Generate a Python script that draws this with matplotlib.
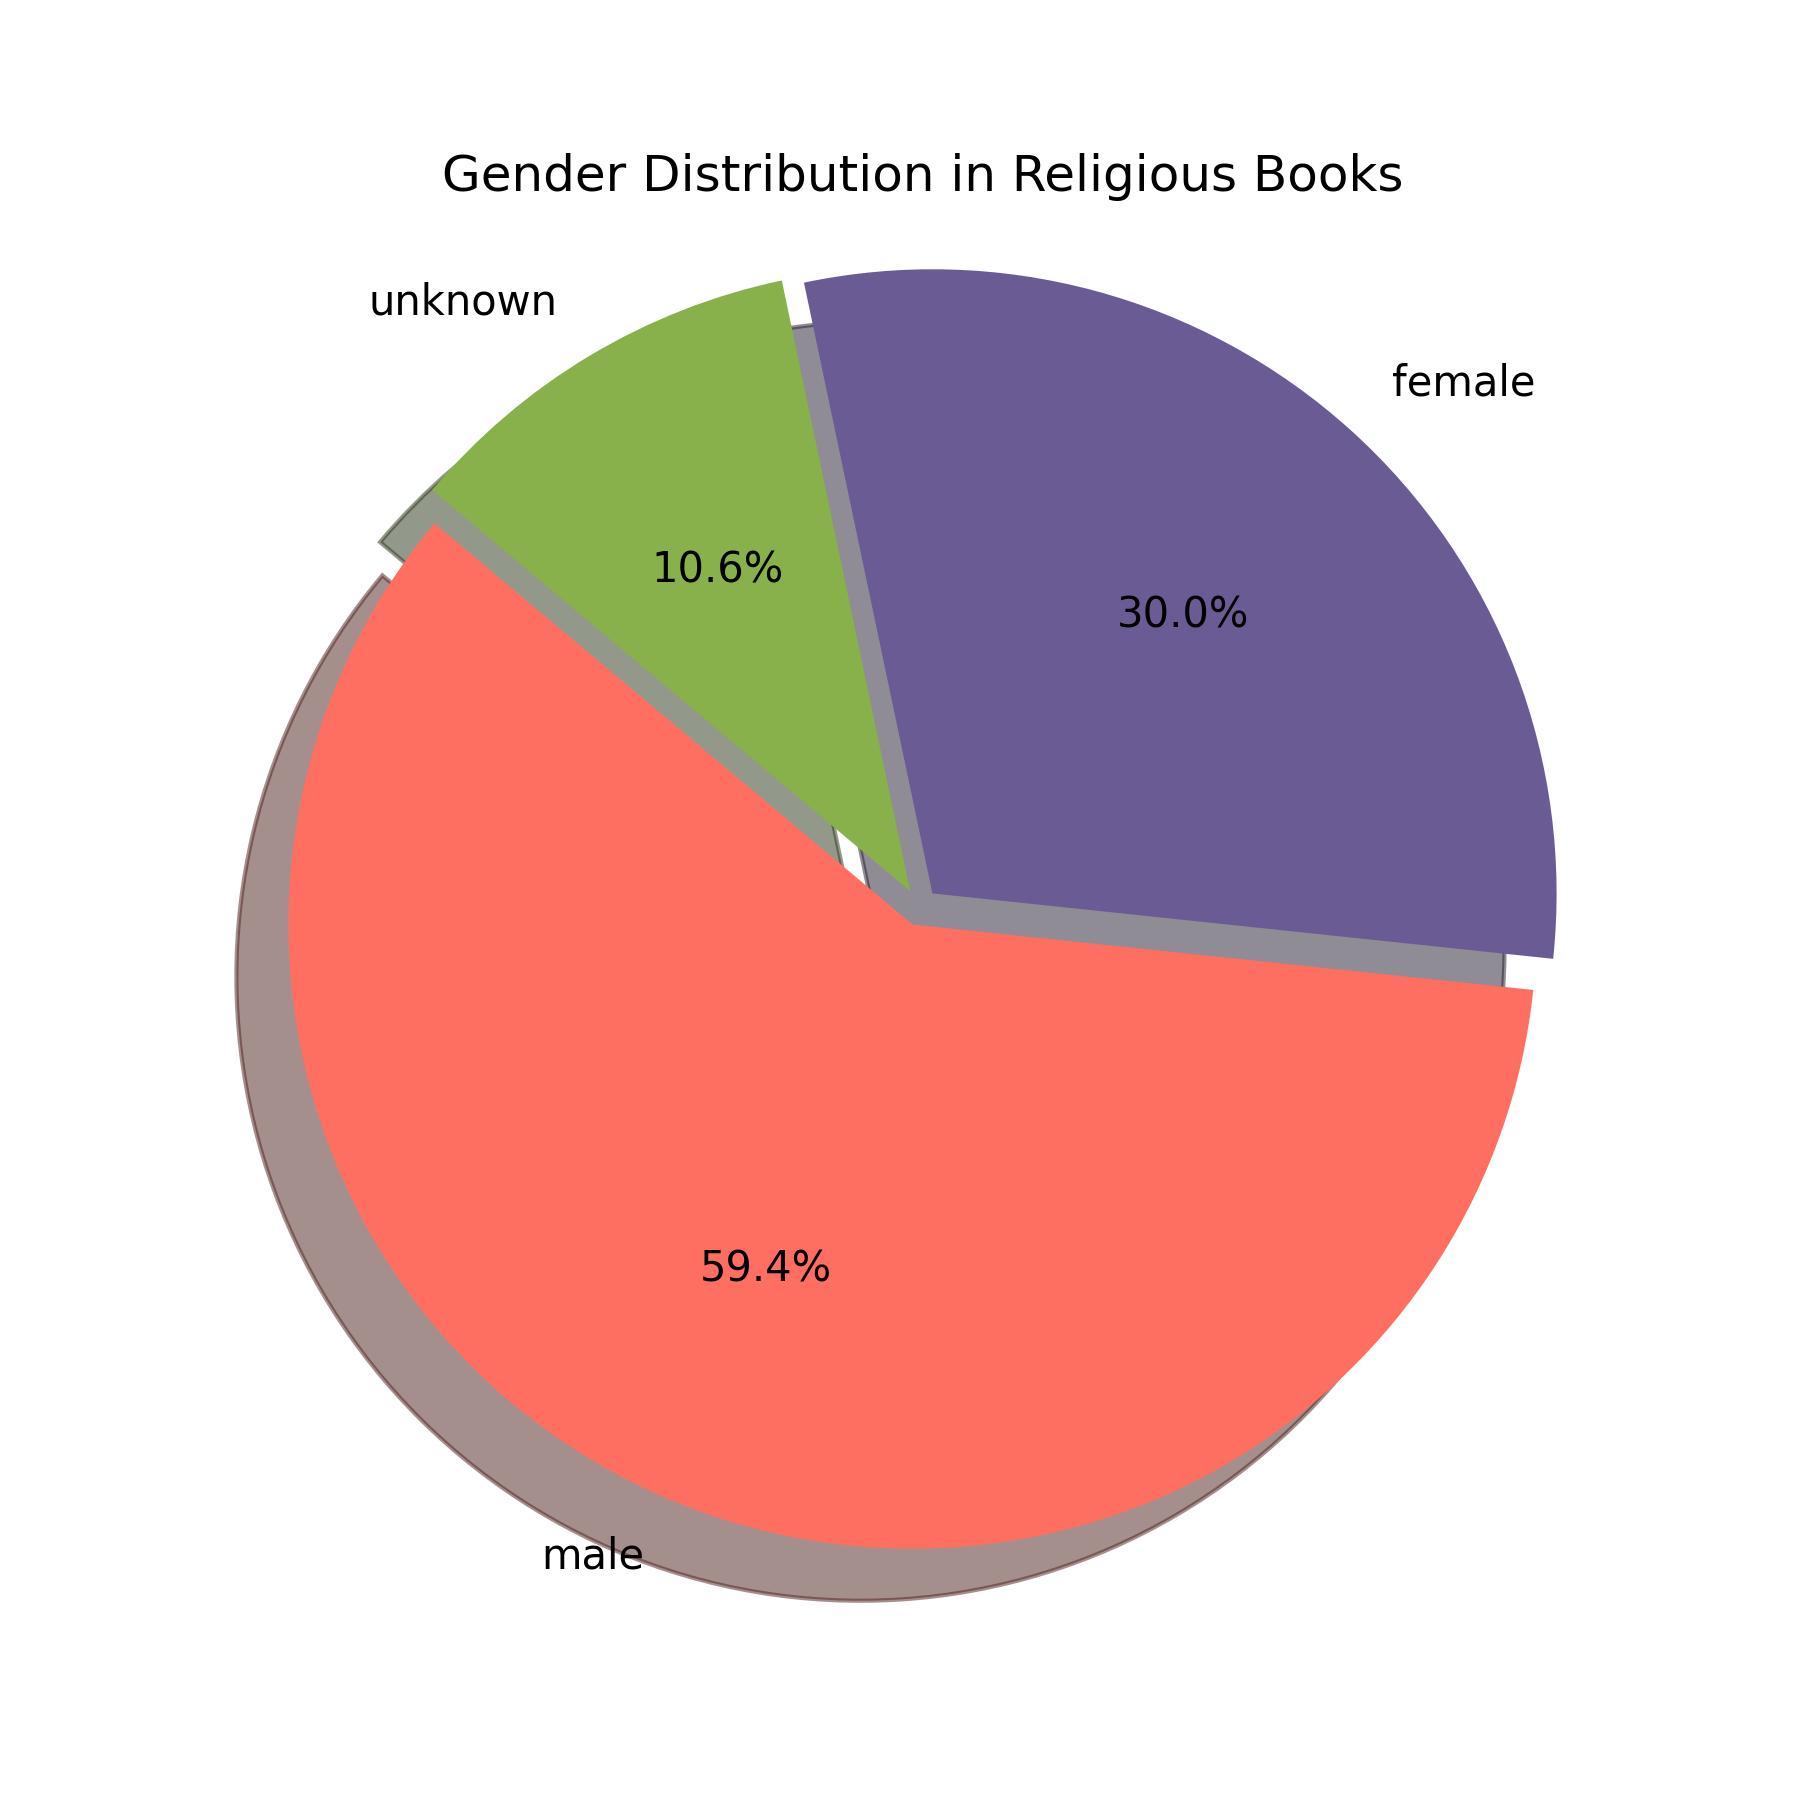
import matplotlib.pyplot as plt

labels = ['male', 'female', 'unknown']
sizes = [59.5, 30.0, 10.6]
colors = ['#FF6F61', '#6B5B95', '#88B04B']
explode = [0.03, 0.03, 0.03]

fig, ax = plt.subplots(figsize=(6, 6), dpi=300)
ax.pie(sizes, labels=labels, colors=colors, explode=explode,
       autopct='%1.1f%%', startangle=140, shadow=True)
ax.set_title('Gender Distribution in Religious Books')
ax.axis('equal')
plt.savefig('out.png')
